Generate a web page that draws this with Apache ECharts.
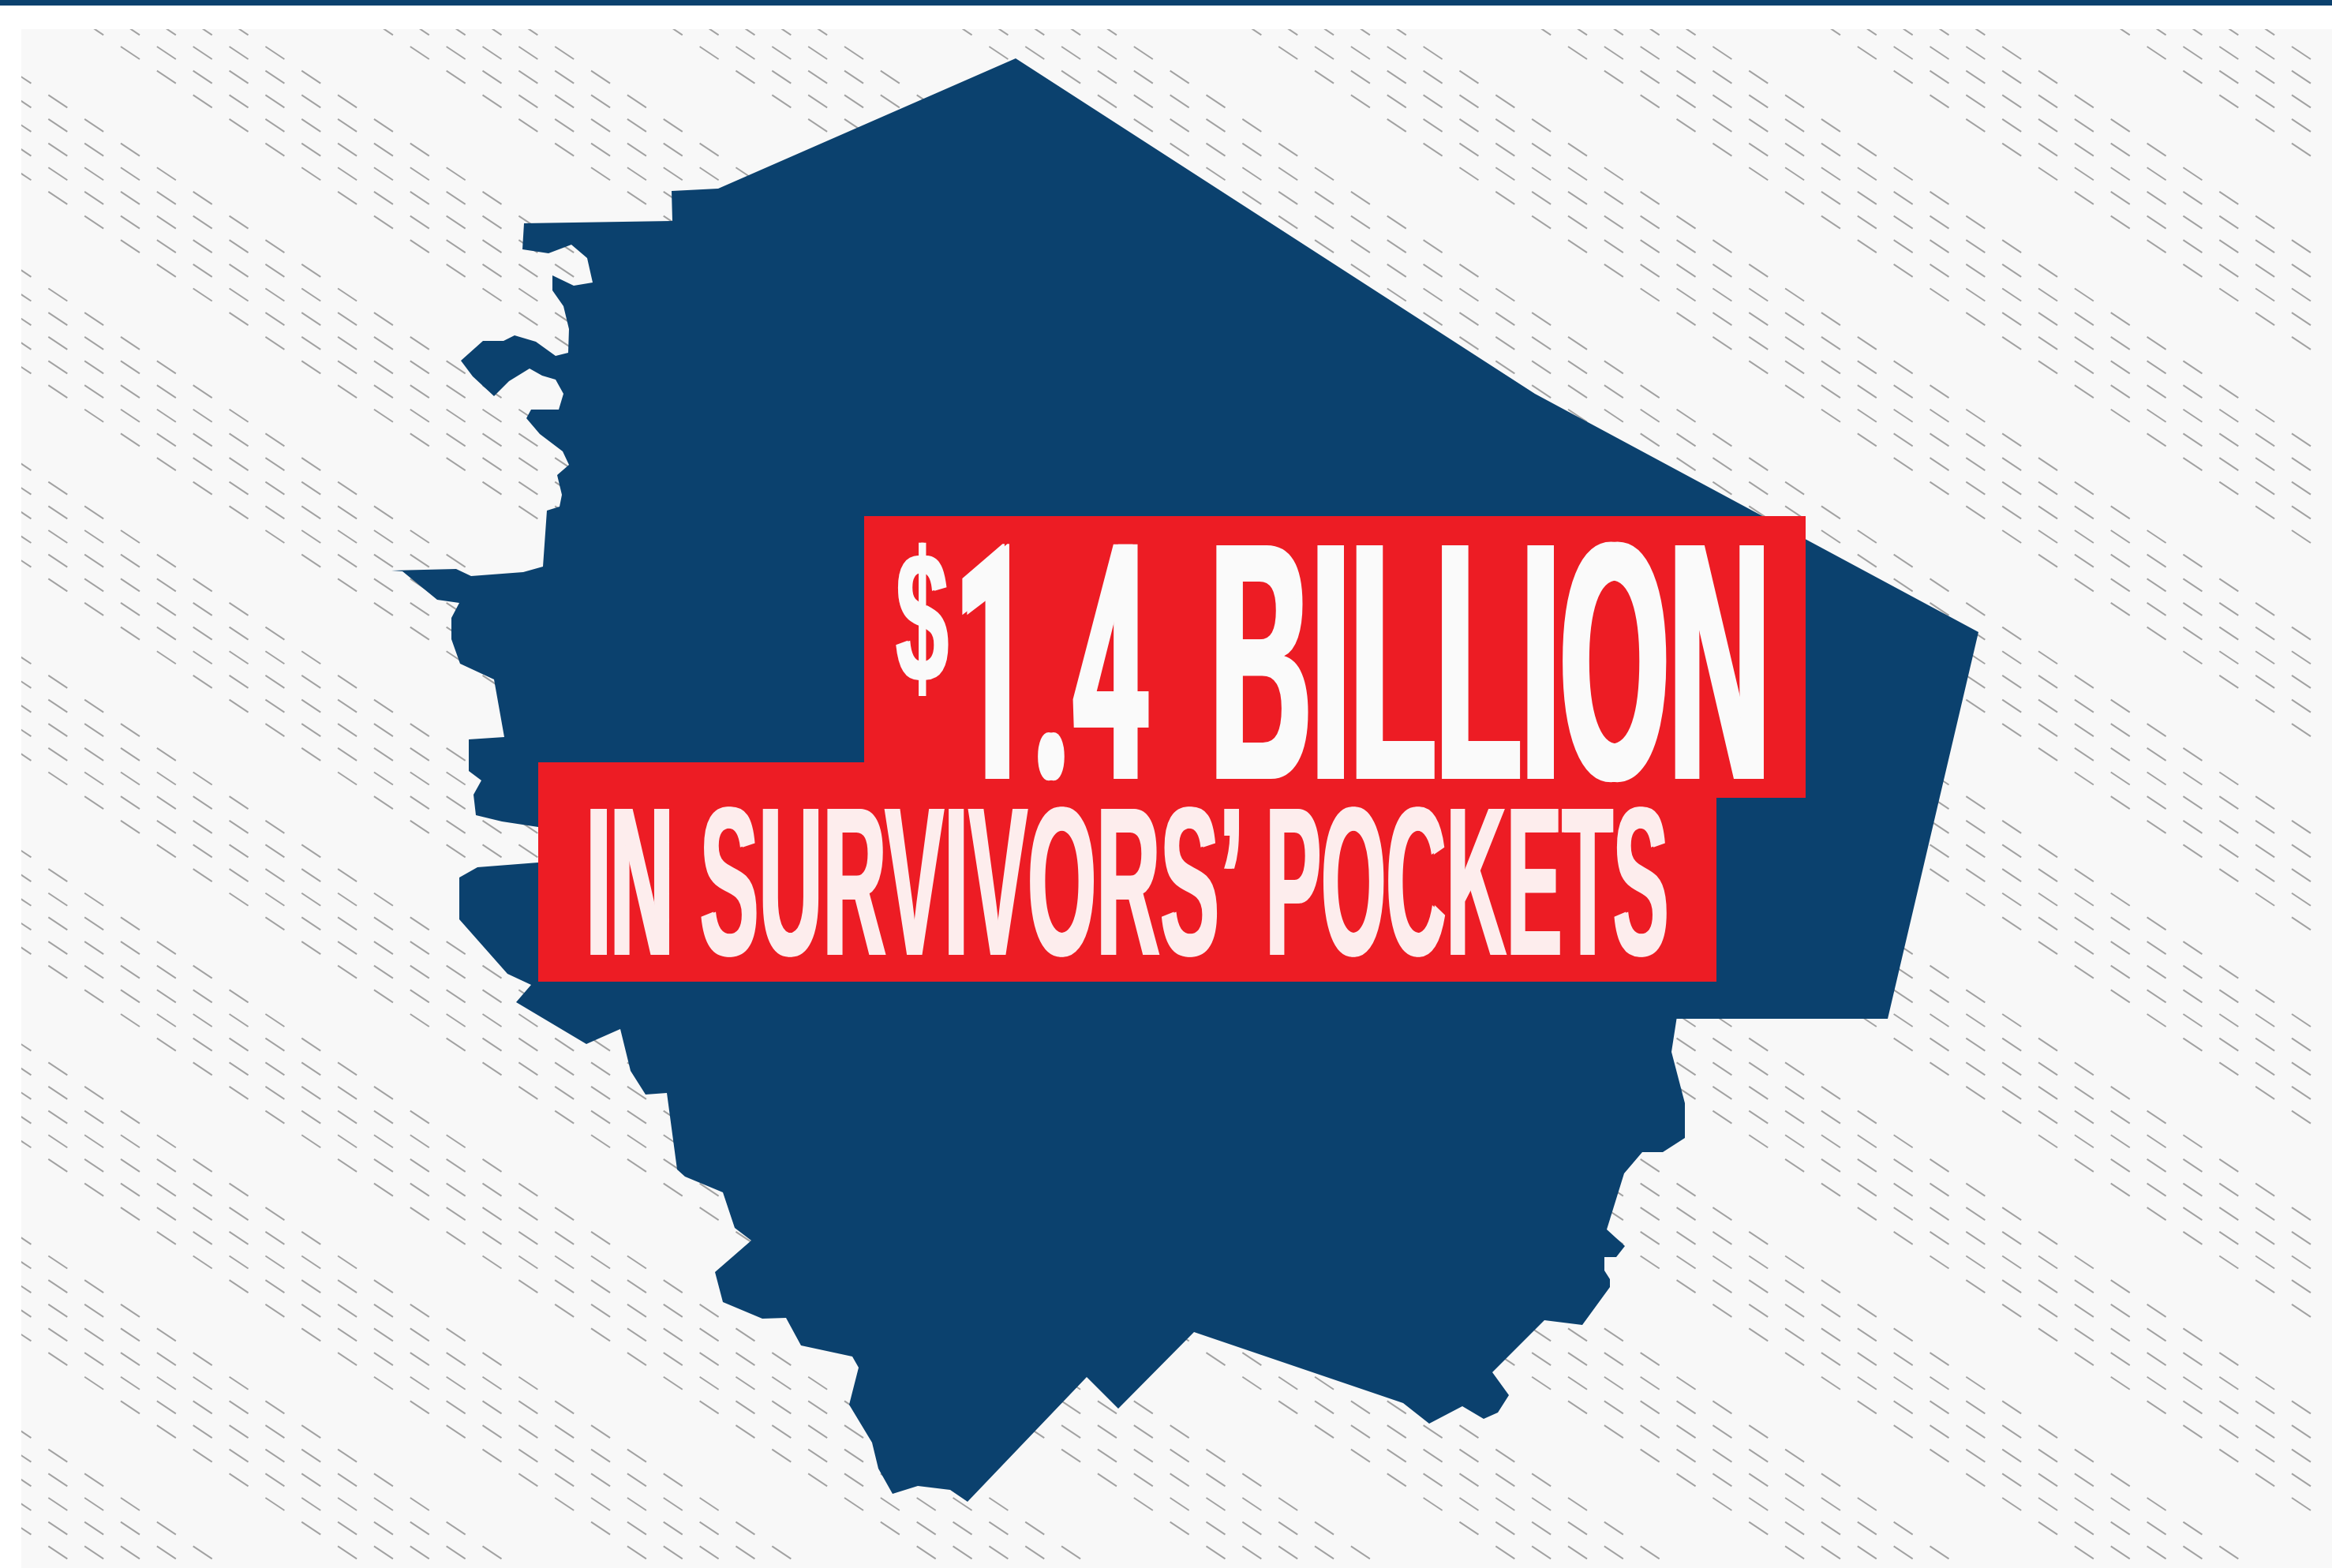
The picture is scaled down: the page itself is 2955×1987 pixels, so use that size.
<!DOCTYPE html>
<html><head><meta charset="utf-8">
<style>html,body{margin:0;padding:0;background:#fff}#c{width:2955px;height:1987px}</style>
<script src="https://cdn.jsdelivr.net/npm/echarts@6/dist/echarts.min.js"></script>
</head><body><div id="c"></div>
<script>
const headlineTop = ['$', '1.4', 'BILLION'];
const headlineBottom = ['IN', 'SURVIVORS\u2019', 'POCKETS'];
const outlineX = [1287,1945,2507,2392,2124.5,2118,2135,2135,2107,2081,2058,2036,2059,2048,2033,2033,2040,2040,2005,1957,1891,1912,1898,1880,1853,1811,1778,1513,1417,1377,1226,1204,1163,1131,1113,1105,1076,1088,1080,1015,996,966,916,906,952,931,916,868,858,845,818,799,786,743,654,673,643,582,582,605,682,682,636,603,600,610,594,594,639,626,583,572,572,582,554,510,496,578,597,663,688,693,709,712,706,721,713,684,667,673,708,714,704,687,671,645,626,599,584,612,638,652,679,704,720,721,714,700,700,727,751,744,724,695,662,664,852,851,910];
const outlineY = [74,499,801,1291,1291,1333,1398,1442,1460,1460,1487,1558,1579,1593,1593,1610,1621,1631,1679,1673,1739,1768,1790,1798,1782,1804,1778,1688,1785,1745,1903,1888,1883,1893,1861,1828,1780,1733,1719,1705,1670,1671,1650,1612,1572,1556,1511,1491,1482,1385,1387,1357,1304,1323,1270,1248,1234,1165,1112,1099,1093,1048,1041,1033,1007,989,977,937,934,861,841,810,783,764,760,724,723,721,730,725,718,647,642,627,602,589,572,550,530,519,519,499,481,476,467,483,502,477,457,432,432,425,433,451,447,417,388,368,349,362,358,327,310,321,316,283,280,242,239];
const textureOn = [0,1,2,3,4];

const NAVY='#0b416e', RED='#ed1c24', PANEL='#f8f8f8';
const textureCells=[];
for(let r=-1;r<64;r++){for(let c=-4;c<61;c++){
  if(textureOn.includes(((c-r)%8+8)%8)){
    const x=153+45.85*c,y=59+30.65*r;
    textureCells.push([x,y,x+24,y+16]);
  }
}}
function fit(text,font,left,right,top,bottom,fill,extra,ownInk){
  const ctx=document.createElement('canvas').getContext('2d');
  ctx.font=font;ctx.textBaseline='middle';ctx.textAlign='left';
  const m=ctx.measureText(text);const cap=ownInk?m:ctx.measureText('I');
  const inkL=-m.actualBoundingBoxLeft,inkR=m.actualBoundingBoxRight;
  const sx=(right-left-extra)/(inkR-inkL);
  const sy=(bottom-top)/(cap.actualBoundingBoxAscent+cap.actualBoundingBoxDescent);
  return {type:'text',z:20,silent:true,x:left-inkL*sx,y:top+cap.actualBoundingBoxAscent*sy,scaleX:sx,scaleY:sy,
    style:{text:text,font:font,fill:fill,align:'left',verticalAlign:'middle',
      textShadowColor:fill,textShadowBlur:0.01,textShadowOffsetX:extra,textShadowOffsetY:0}};
}
const FONT='bold 200px "Liberation Sans Narrow","Liberation Sans"';
const FONT_NUM='bold 200px Roboto,"Liberation Sans"';
const T='#fafafa',B='#fdeded';
const chart=echarts.init(document.getElementById('c'),null,{renderer:'canvas'});
chart.setOption({
  animation:false,
  grid:{show:true,left:27,right:0,top:37,bottom:0,backgroundColor:PANEL,borderWidth:0,containLabel:false},
  xAxis:{type:'value',min:27,max:2955,show:false},
  yAxis:{type:'value',min:37,max:1987,inverse:true,show:false},
  tooltip:{show:false},
  graphic:[
    {type:'rect',z:20,silent:true,shape:{x:0,y:0,width:2955,height:7},style:{fill:NAVY}},
    {type:'rect',z:20,silent:true,shape:{x:1095,y:654,width:1193,height:357},style:{fill:RED}},
    {type:'rect',z:20,silent:true,shape:{x:682,y:966,width:1493,height:278},style:{fill:RED}},
    fit(headlineTop[0],FONT,1135,1202,687,882,T,3,true),
    fit(headlineTop[1],FONT_NUM,1219,1456,688,987,T,6),
    fit(headlineTop[2],FONT,1541,2235,688,987,T,8),
    fit(headlineBottom[0],FONT,748,848,1023,1210,B,5),
    fit(headlineBottom[1],FONT,888,1570,1023,1210,B,3),
    fit(headlineBottom[2],FONT,1609,2112,1023,1210,B,3)
  ],
  series:[
    {type:'custom',silent:true,clip:true,z:2,coordinateSystem:'cartesian2d',data:textureCells,
      renderItem:(p,api)=>{const a=api.coord([api.value(0),api.value(1)]),b=api.coord([api.value(2),api.value(3)]);
        return {type:'line',shape:{x1:a[0],y1:a[1],x2:b[0],y2:b[1]},style:{stroke:'#a2a2a2',lineWidth:2,fill:null}};}},
    {type:'custom',silent:true,clip:true,z:3,coordinateSystem:'cartesian2d',data:[[0,0]],
      renderItem:(p,api)=>({type:'polygon',shape:{points:outlineX.map((x,i)=>api.coord([x,outlineY[i]]))},style:{fill:NAVY}})}
  ]
});
</script></body></html>
